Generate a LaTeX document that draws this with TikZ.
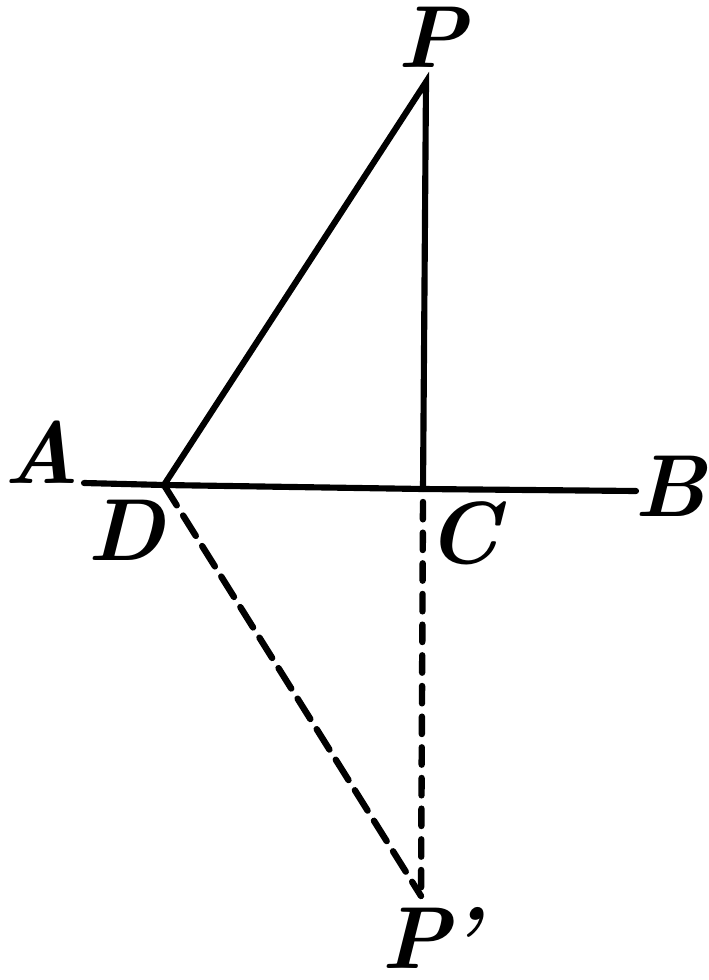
\documentclass[tikz,border=0pt]{standalone}
\begin{document}
\begin{tikzpicture}[x=0.75pt,y=-0.75pt,
  lbl/.style={anchor=base,inner sep=0pt,font=\fontsize{66}{66}\selectfont\bfseries\itshape},
  solidline/.style={line width=4.6pt,line cap=round},
  dashA/.style={line width=4.8pt,line cap=round,dash pattern=on 18pt off 9pt},
  dashB/.style={line width=4.8pt,line cap=round,dash pattern=on 13pt off 10pt}]
\useasboundingbox (0,0) rectangle (709,980);
\coordinate (P) at (426,82);
\coordinate (C) at (423,489);
\coordinate (D) at (164,485);
\coordinate (Aend) at (84,483);
\coordinate (Bend) at (636,491);
\coordinate (Pp) at (421,896);
\coordinate (Cd) at (423,502);
\node[lbl] (lP) at (432,68) {P};
\node[lbl] (lA) at (42,483) {A};
\node[lbl] (lB) at (670,516) {B};
\node[lbl] (lD) at (126,560) {D};
\node[lbl] (lC) at (463,563) {C};
\node[lbl] (lPp) at (430,968) {P\kern-3pt\textquoteright};
\draw[solidline] (Aend) -- (D) -- (C) -- (Bend);
\draw[solidline] (D) -- (P) -- (C);
\draw[dashA] (D) -- (Pp);
\draw[dashB] (Cd) -- (Pp);
\end{tikzpicture}
\end{document}
